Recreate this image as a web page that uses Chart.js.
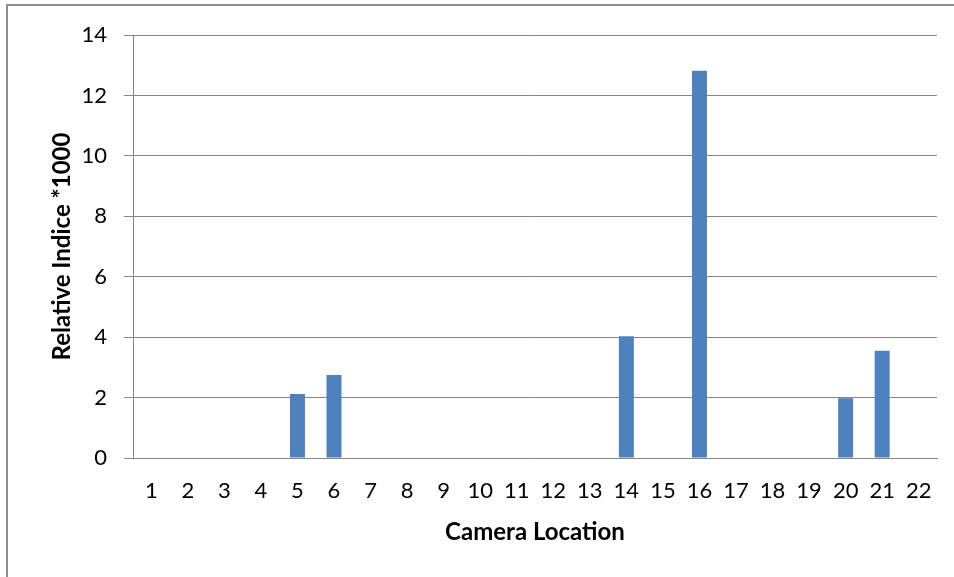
<!DOCTYPE html>
<html>
<head>
<meta charset="utf-8">
<script src="https://cdn.jsdelivr.net/npm/chart.js@4/dist/chart.umd.min.js"></script>
<style>
  html, body { margin: 0; padding: 0; background: #ffffff; }
  #wrap { position: relative; width: 954px; height: 577px; overflow: hidden; }
  #frame {
    position: absolute; left: 6px; top: 4px; width: 1000px; height: 700px;
    border-top: 2px solid #8e8e8e; border-left: 2px solid #8e8e8e;
  }
  #c { position: absolute; left: 0; top: 0; }
</style>
</head>
<body>
<div id="wrap">
  <div id="frame"></div>
  <canvas id="c" width="954" height="577"></canvas>
</div>
<script>
// Camera locations along the survey transect
const locations = ['1','2','3','4','5','6','7','8','9','10','11','12','13','14','15','16','17','18','19','20','21','22'];
// Relative abundance index, scaled by 1000
const relativeIndex = [0, 0, 0, 0, 2.12, 2.75, 0, 0, 0, 0, 0, 0, 0, 4.03, 0, 12.82, 0, 0, 0, 1.98, 3.55, 0];
// Value axis ticks
const yTicks = [0, 2, 4, 6, 8, 10, 12, 14];

const FONT = 'Lato, "Open Sans", "DejaVu Sans", sans-serif';
const AXIS_GRAY = '#868686';

new Chart(document.getElementById('c'), {
  type: 'bar',
  data: {
    labels: locations,
    datasets: [{
      data: relativeIndex,
      backgroundColor: '#4F81BD',
      borderWidth: 0,
      categoryPercentage: 1,
      barPercentage: 0.41
    }]
  },
  options: {
    responsive: false,
    animation: false,
    layout: { padding: { left: 0, top: 35, right: 17, bottom: 0 } },
    plugins: { legend: { display: false }, tooltip: { enabled: false } },
    scales: {
      x: {
        grid: { display: false, drawTicks: false },
        border: { display: true, color: AXIS_GRAY, width: 1 },
        ticks: { color: '#000', font: { family: FONT, size: 22 }, padding: 20, maxRotation: 0, autoSkip: false },
        title: {
          display: true, text: 'Camera Location', color: '#000',
          font: { family: FONT, size: 24, weight: 'bold', lineHeight: 1.2 },
          padding: { top: 0, bottom: 30 }
        },
        afterFit: (scale) => { scale.height = 119; }
      },
      y: {
        min: 0, max: 14,
        afterBuildTicks: (scale) => { scale.ticks = yTicks.map(v => ({ value: v })); },
        grid: { color: AXIS_GRAY, lineWidth: 1, drawTicks: true, tickLength: 9, tickColor: AXIS_GRAY },
        border: { display: true, color: AXIS_GRAY, width: 1 },
        ticks: { color: '#000', font: { family: FONT, size: 22 }, padding: 17 },
        title: {
          display: true, text: 'Relative Indice *1000', color: '#000',
          font: { family: FONT, size: 24, weight: 'bold', lineHeight: 1.2 },
          padding: { top: 48, bottom: 0 }
        },
        afterFit: (scale) => { scale.width = 133; }
      }
    }
  }
});
</script>
</body>
</html>
